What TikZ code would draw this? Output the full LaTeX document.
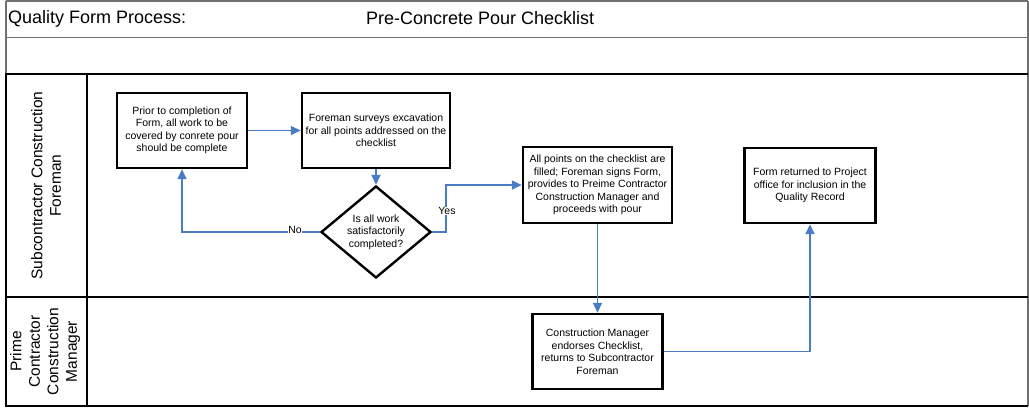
\documentclass[tikz,border=0pt]{standalone}
\usepackage{fontspec}
\setmainfont{Liberation Sans}
\usetikzlibrary{shapes.geometric,arrows.meta}
\definecolor{flowblue}{HTML}{4A7CC4}
\definecolor{rulegray}{HTML}{707070}
\begin{document}
\begin{tikzpicture}[x=1pt,y=-1pt,
  stepbox/.style={draw=black,line width=2.4pt,fill=white,align=center,
    inner sep=1pt,font=\fontsize{10.5}{12.5}\selectfont},
  decision/.style={draw=black,line width=2.4pt,fill=white,diamond,aspect=1.2,
    inner sep=0pt,align=center,font=\fontsize{10.5}{12.5}\selectfont,
    minimum width=110pt,minimum height=92pt},
  flow/.style={draw=flowblue,line width=1.5pt,-{Triangle[length=10pt,width=9pt]}},
  flowlabel/.style={fill=white,inner sep=0.6pt,font=\fontsize{10.5}{12.5}\selectfont},
  lanelabel/.style={rotate=90,align=center,font=\fontsize{15.5}{18.5}\selectfont},
  heavyrule/.style={line width=2.4pt,black},
  lightrule/.style={line width=1.2pt,rulegray}]
\useasboundingbox (0,0) rectangle (1029,408);

% title block
\draw[lightrule] (6,1) -- (1028,1);
\draw[lightrule] (6,37.5) -- (1028,37.5);
\draw[lightrule] (6,1) -- (6,74);
\draw[lightrule] (1028,1) -- (1028,406);
\node[anchor=west,inner sep=0pt,font=\fontsize{18}{20}\selectfont] (ttl) at (8,18.5) {Quality Form Process:};
\node[anchor=west,inner sep=0pt,font=\fontsize{18}{20}\selectfont] (sub) at (366,18.5) {Pre-Concrete Pour Checklist};

% swimlanes
\draw[heavyrule] (5,74) -- (1028,74);
\draw[heavyrule] (5,297) -- (1028,297);
\draw[heavyrule] (5,406) -- (1028,406);
\draw[heavyrule] (6,73) -- (6,407);
\draw[heavyrule] (87,73) -- (87,407);
\node[lanelabel] (lane1) at (46,185.5) {Subcontractor Construction\\Foreman};
\node[lanelabel] (lane2) at (45,351.5) {Prime\\Contractor\\Construction\\Manager};

% process steps
\node[stepbox,minimum width=130pt,minimum height=75pt] (prior) at (182,130.5)
  {Prior to completion of\\Form, all work to be\\covered by conrete pour\\should be complete};
\node[stepbox,minimum width=148pt,minimum height=75pt] (survey) at (376,130.5)
  {Foreman surveys excavation\\for all points addressed on the\\checklist};
\node[decision] (check) at (376,232) {Is all work\\satisfactorily\\completed?};
\node[stepbox,minimum width=149pt,minimum height=76pt] (filled) at (597.5,185)
  {All points on the checklist are\\filled; Foreman signs Form,\\provides to Preime Contractor\\Construction Manager and\\proceeds with pour};
\node[stepbox,minimum width=131pt,minimum height=75pt] (record) at (810,185.5)
  {Form returned to Project\\office for inclusion in the\\Quality Record};
\node[stepbox,minimum width=130pt,minimum height=75pt] (endorse) at (597.5,351.5)
  {Construction Manager\\endorses Checklist,\\returns to Subcontractor\\Foreman};

% connectors
\draw[flow] (prior.east) -- (survey.west);
\draw[flow] (survey.south) -- (check.north);
\draw[flow] (check.west) -| (prior.south);
\node[flowlabel] (nolbl) at (295,230) {No};
\draw[flow] (check.east) -- ++(14,0) |- (filled.west);
\node[flowlabel] (yeslbl) at (447,211) {Yes};
\draw[flow] (filled.south) -- (endorse.north);
\draw[flow] (endorse.east) -| (record.south);
\end{tikzpicture}
\end{document}
